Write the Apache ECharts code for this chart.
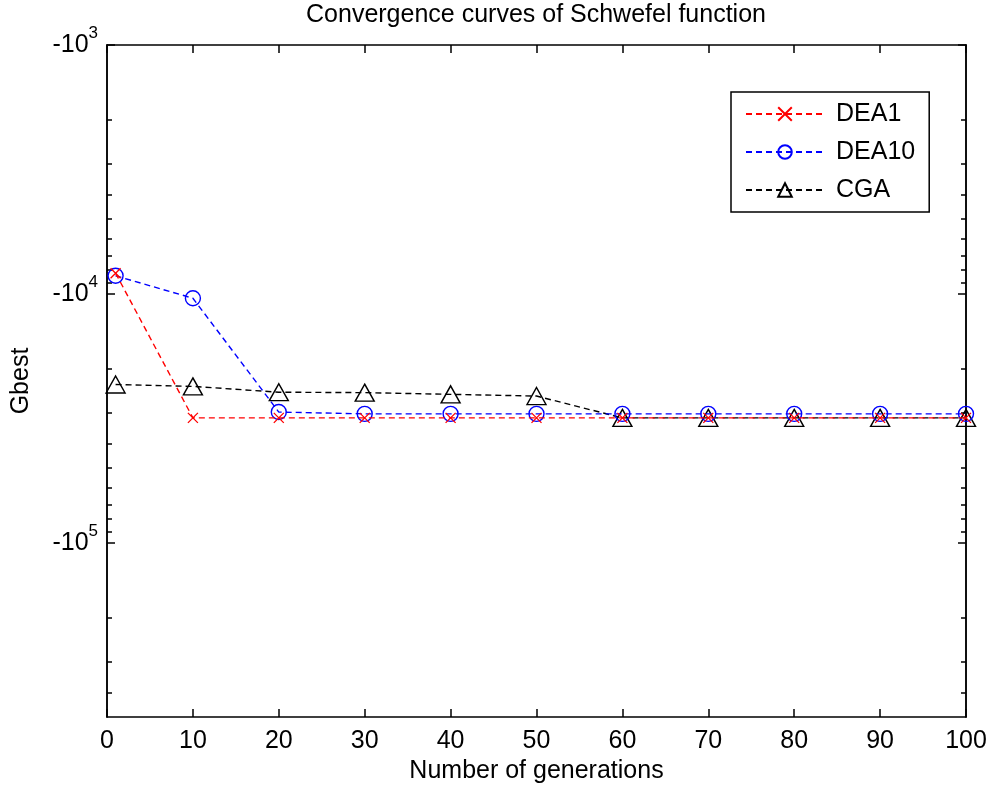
<!DOCTYPE html>
<html>
<head>
<meta charset="utf-8">
<script src="https://cdn.jsdelivr.net/npm/echarts@6/dist/echarts.min.js"></script>
<style>
html,body{margin:0;padding:0;background:#fff;}
#chart{width:993px;height:789px;}
</style>
</head>
<body>
<div id="chart"></div>
<script>
// ---- data ----
const generations = [1, 10, 20, 30, 40, 50, 60, 70, 80, 90, 100];
const dea1  = [-8250, -31450, -31450, -31450, -31450, -31450, -31450, -31450, -31450, -31450, -31450];
const dea10 = [-8450, -10400, -29800, -30300, -30300, -30300, -30300, -30300, -30300, -30300, -30300];
const cga   = [-23100, -23500, -24800, -24900, -25300, -25700, -31450, -31450, -31450, -31450, -31450];
const xTicks = [0, 10, 20, 30, 40, 50, 60, 70, 80, 90, 100];
const yMajor = [-1000, -10000, -100000];
const yMinor = [-2000, -3000, -4000, -5000, -6000, -7000, -8000, -9000,
                -20000, -30000, -40000, -50000, -60000, -70000, -80000, -90000,
                -200000, -300000, -400000];
const yRange = [-1000, -500000];

const FONT = '"Liberation Sans", Arial, Helvetica, sans-serif';
const chart = echarts.init(document.getElementById('chart'), null, {renderer: 'canvas'});

function yAxis(position, ticks, len, labels) {
  return {
    type: 'log', logBase: 10, position: position, offset: 0,
    min: Math.abs(yRange[0]), max: Math.abs(yRange[1]), inverse: true,
    name: labels ? 'Gbest' : '', nameLocation: 'middle', nameGap: 73,
    nameTextStyle: {fontFamily: FONT, fontSize: 25, color: '#000'},
    axisLine: {show: true, lineStyle: {color: '#000', width: 1.5}},
    axisTick: {show: true, inside: true, length: len, lineStyle: {color: '#000', width: 1.5},
               customValues: ticks.map(Math.abs)},
    minorTick: {show: false},
    splitLine: {show: false},
    axisLabel: labels ? {
      show: true, margin: 9, customValues: yMajor.map(Math.abs),
      formatter: function (v) {
        const k = Math.round(Math.log10(v));
        return '{b|-10}{s|' + k + '}';
      },
      rich: {
        b: {fontFamily: FONT, fontSize: 25, color: '#000'},
        s: {fontFamily: FONT, fontSize: 17, color: '#000', padding: [0, 0, 24, 0]}
      }
    } : {show: false}
  };
}

function xAxis(position, labels) {
  return {
    type: 'value', position: position, min: 0, max: 100, interval: 10,
    name: labels ? 'Number of generations' : '', nameLocation: 'middle', nameGap: 42,
    nameTextStyle: {fontFamily: FONT, fontSize: 25, color: '#000'},
    axisLine: {show: true, lineStyle: {color: '#000', width: 1.5}},
    axisTick: {show: true, inside: true, length: 8, lineStyle: {color: '#000', width: 1.5}},
    splitLine: {show: false},
    axisLabel: labels ? {show: true, margin: 12, fontFamily: FONT, fontSize: 25, color: '#000',
                         customValues: xTicks} : {show: false}
  };
}

function toPairs(arr) { return generations.map((g, i) => [g, Math.abs(arr[i])]); }

const option = {
  backgroundColor: '#fff',
  animation: false,
  title: {
    text: 'Convergence curves of Schwefel function',
    left: 536, textAlign: 'center', top: 3, padding: 0,
    textStyle: {fontFamily: FONT, fontSize: 25, fontWeight: 'normal', color: '#000'}
  },
  grid: {left: 107, right: 27, top: 45, bottom: 72, containLabel: false},
  legend: {
    orient: 'vertical', left: 731, top: 92,
    padding: [9, 14, 9, 14], itemGap: 12,
    itemWidth: 78, itemHeight: 17,
    backgroundColor: '#fff', borderColor: '#000', borderWidth: 1.5,
    textStyle: {fontFamily: FONT, fontSize: 25, color: '#000', lineHeight: 26, padding: [0, 0, 0, 7]},
    data: ['DEA1', 'DEA10', 'CGA']
  },
  xAxis: [xAxis('bottom', true), xAxis('top', false)],
  yAxis: [
    yAxis('left', yMajor, 8, true),
    yAxis('left', yMinor, 5, false),
    yAxis('right', yMajor, 8, false),
    yAxis('right', yMinor, 5, false)
  ],
  series: [
    {
      name: 'DEA1', type: 'line', xAxisIndex: 0, yAxisIndex: 0, data: toPairs(dea1),
      symbol: 'path://M0,0L10,10M10,0L0,10', symbolSize: 10,
      itemStyle: {color: 'none', borderColor: '#ff0000', borderWidth: 1.3},
      lineStyle: {color: '#ff0000', width: 1.4, type: [6, 4]},
      color: '#ff0000', z: 4
    },
    {
      name: 'DEA10', type: 'line', xAxisIndex: 0, yAxisIndex: 0, data: toPairs(dea10),
      symbol: 'circle', symbolSize: 15,
      itemStyle: {color: 'none', borderColor: '#0000ff', borderWidth: 1.4},
      lineStyle: {color: '#0000ff', width: 1.4, type: [6, 4]},
      color: '#0000ff', z: 3
    },
    {
      name: 'CGA', type: 'line', xAxisIndex: 0, yAxisIndex: 0, data: toPairs(cga),
      symbol: 'triangle', symbolSize: [19, 17],
      itemStyle: {color: 'none', borderColor: '#000', borderWidth: 1.4},
      lineStyle: {color: '#000', width: 1.4, type: [6, 4]},
      color: '#000', z: 2
    }
  ]
};
chart.setOption(option);
</script>
</body>
</html>
